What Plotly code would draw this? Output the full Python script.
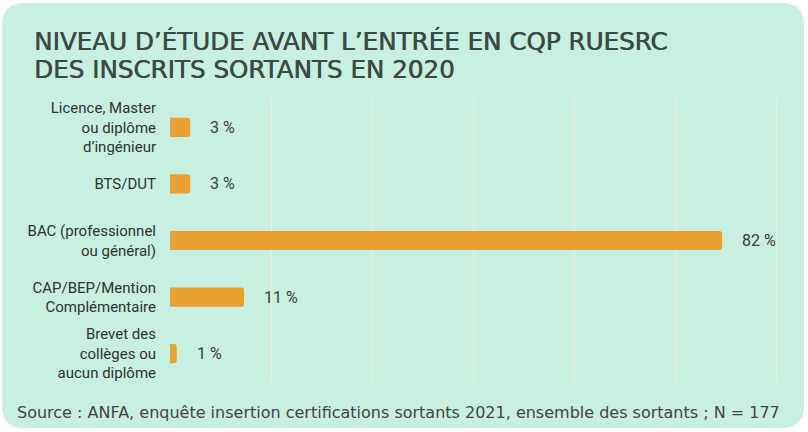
import plotly.graph_objects as go

categories = [
    "Licence, Master<br>ou diplôme<br>d’ingénieur",
    "BTS/DUT",
    "BAC (professionnel<br>ou général)",
    "CAP/BEP/Mention<br>Complémentaire",
    "Brevet des<br>collèges ou<br>aucun diplôme",
]
values = [3, 3, 82, 11, 1]
value_labels = ["3 %", "3 %", "82 %", "11 %", "1 %"]

title_lines = ["NIVEAU D’ÉTUDE AVANT L’ENTRÉE EN CQP RUESRC", "DES INSCRITS SORTANTS EN 2020"]
source_text = "Source : ANFA, enquête insertion certifications sortants 2021, ensemble des sortants ; N = 177"

W, H = 808, 432
ML, MR, MT, MB = 170, 20, 99, 50
PW, PH = W - ML - MR, H - MT - MB

def px(x):
    return (x - ML) / PW

def py(y):
    return (H - MB - y) / PH

BG = "#c8f0e0"
BAR = "#e9a030"
TXT = "#2e3333"
TITLE = "#3b4a44"

fig = go.Figure()
fig.add_trace(go.Bar(
    y=categories, x=values, orientation="h",
    marker=dict(color=BAR, cornerradius=3, line=dict(width=0)),
    width=0.34, hoverinfo="skip",
))

annotations = []
for c, v, t in zip(categories, values, value_labels):
    annotations.append(dict(x=v, y=c, xref="x", yref="y", text=t, showarrow=False,
                            xanchor="left", xshift=18,
                            font=dict(family="Roboto", size=16, color="#3c3c3c")))
for i, line in enumerate(title_lines):
    annotations.append(dict(x=px(32), y=py(42 + 28 * i), xref="paper", yref="paper", text=line,
                            showarrow=False, xanchor="left", yanchor="middle",
                            font=dict(family="DejaVu Sans", size=24.6, color=TITLE,
                                      shadow=f"0.6px 0px 0px {TITLE}")))
annotations.append(dict(x=px(15), y=py(412), xref="paper", yref="paper", text=source_text,
                        showarrow=False, xanchor="left", yanchor="middle",
                        font=dict(family="DejaVu Sans", size=16, color="#444444")))

# rounded background panel
r = 22
x0, x1, y0, y1 = 2, 804, 3, 428
path = (f"M {px(x0 + r)} {py(y0)} L {px(x1 - r)} {py(y0)} "
        f"Q {px(x1)} {py(y0)} {px(x1)} {py(y0 + r)} "
        f"L {px(x1)} {py(y1 - r)} Q {px(x1)} {py(y1)} {px(x1 - r)} {py(y1)} "
        f"L {px(x0 + r)} {py(y1)} Q {px(x0)} {py(y1)} {px(x0)} {py(y1 - r)} "
        f"L {px(x0)} {py(y0 + r)} Q {px(x0)} {py(y0)} {px(x0 + r)} {py(y0)} Z")

fig.update_layout(
    width=W, height=H,
    margin=dict(l=ML, r=MR, t=MT, b=MB),
    paper_bgcolor="white", plot_bgcolor="rgba(0,0,0,0)",
    showlegend=False,
    annotations=annotations,
    shapes=[dict(type="path", path=path, xref="paper", yref="paper",
                 fillcolor=BG, line=dict(width=0), layer="below")],
    xaxis=dict(range=[0, PW * 15 / 101], showgrid=True, gridcolor="#eeeed8", gridwidth=1,
               dtick=15, tick0=0, zeroline=False, showticklabels=False, showline=False,
               fixedrange=True),
    yaxis=dict(categoryorder="array", categoryarray=categories, autorange="reversed",
               showgrid=False, zeroline=False, showline=False, ticks="",
               ticklabelstandoff=13,
               tickfont=dict(family="Roboto", size=15, color=TXT), fixedrange=True),
)

fig.write_html("out.html", config={"displayModeBar": False},
               post_script="document.body.style.margin='0';document.body.style.overflow='hidden';")
